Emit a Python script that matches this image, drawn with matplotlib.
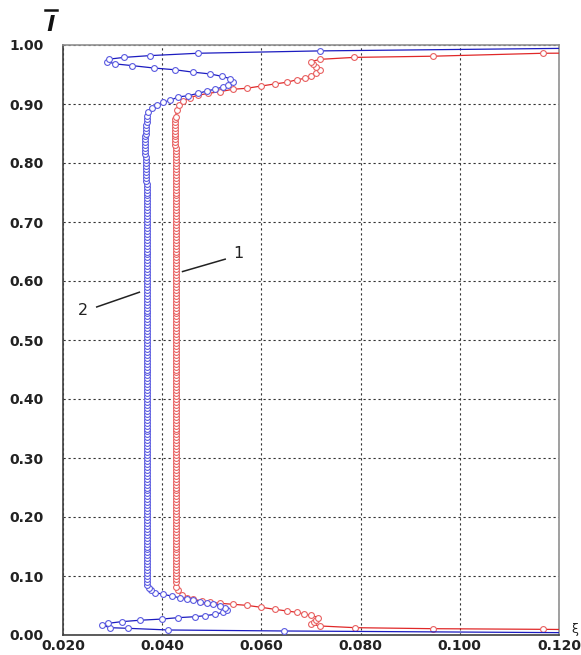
import numpy as np
import matplotlib.pyplot as plt
from matplotlib.lines import Line2D

# relative length stations and loss coefficient values, curve 2 (blue)
blue_bot_l = [0.003, 0.0068, 0.0085, 0.0113, 0.0124, 0.017, 0.0198, 0.0226,
              0.025, 0.027, 0.0294, 0.031, 0.0327, 0.035, 0.0385, 0.042,
              0.0464, 0.050, 0.052, 0.054, 0.0565, 0.059, 0.061, 0.063,
              0.066, 0.069, 0.072, 0.076, 0.080, 0.085]
blue_bot_xi = [0.140, 0.0646, 0.0412, 0.0332, 0.0295, 0.0278, 0.0291, 0.0318,
               0.0355, 0.0399, 0.0432, 0.0466, 0.0486, 0.0506, 0.0523, 0.0530,
               0.0527, 0.0517, 0.0503, 0.0490, 0.0476, 0.0463, 0.0449, 0.0436,
               0.0419, 0.0402, 0.0385, 0.0377, 0.0373, 0.0370]

blue_top_l = [0.880, 0.887, 0.893, 0.898, 0.903, 0.906, 0.912, 0.914, 0.918,
              0.922, 0.925, 0.929, 0.932, 0.937, 0.943, 0.947, 0.951, 0.954,
              0.958, 0.961, 0.965, 0.968, 0.972, 0.976, 0.979, 0.982, 0.986,
              0.990, 0.996]
blue_top_xi = [0.0369, 0.0371, 0.0379, 0.0389, 0.0402, 0.0416, 0.0432, 0.0452,
               0.0472, 0.0490, 0.0506, 0.0523, 0.0533, 0.0542, 0.0537, 0.0520,
               0.0496, 0.0462, 0.0426, 0.0383, 0.0340, 0.0305, 0.0288, 0.0293,
               0.0323, 0.0375, 0.0472, 0.0718, 0.140]

# curve 1 (red)
red_bot_l = [0.008, 0.0096, 0.0107, 0.0124, 0.0153, 0.018, 0.0215, 0.0254,
             0.0294, 0.0333, 0.0356, 0.0385, 0.0407, 0.0435, 0.0469, 0.0503,
             0.052, 0.0537, 0.0554, 0.0576, 0.0605, 0.063, 0.068, 0.0755,
             0.082]
red_bot_xi = [0.140, 0.1168, 0.0945, 0.0789, 0.0718, 0.0701, 0.0706, 0.0711,
              0.0715, 0.0701, 0.0686, 0.0671, 0.0651, 0.0627, 0.0600, 0.0570,
              0.0543, 0.0517, 0.0496, 0.0480, 0.0463, 0.0449, 0.0439, 0.0432,
              0.0428]

red_top_l = [0.878, 0.890, 0.899, 0.905, 0.911, 0.915, 0.918, 0.921, 0.925,
             0.9266, 0.9305, 0.934, 0.9368, 0.941, 0.9435, 0.947, 0.9525,
             0.9576, 0.963, 0.968, 0.972, 0.9757, 0.979, 0.981, 0.986, 0.987]
red_top_xi = [0.0427, 0.0429, 0.0434, 0.0442, 0.0456, 0.0473, 0.0493, 0.0517,
              0.0543, 0.0570, 0.0600, 0.0627, 0.0651, 0.0671, 0.0688, 0.0701,
              0.0711, 0.0718, 0.0711, 0.0705, 0.0701, 0.0718, 0.0787, 0.0945,
              0.1168, 0.140]

# core region, shared stations
mid_l = [0.090, 0.095, 0.100, 0.105, 0.110, 0.115, 0.120, 0.125, 0.130, 0.135,
         0.140, 0.145, 0.150, 0.155, 0.160, 0.165, 0.170, 0.175, 0.180, 0.185,
         0.190, 0.195, 0.200, 0.205, 0.210, 0.215, 0.220, 0.225, 0.230, 0.235,
         0.240, 0.245, 0.250, 0.255, 0.260, 0.265, 0.270, 0.275, 0.280, 0.285,
         0.290, 0.295, 0.300, 0.305, 0.310, 0.315, 0.320, 0.325, 0.330, 0.335,
         0.340, 0.345, 0.350, 0.355, 0.360, 0.365, 0.370, 0.375, 0.380, 0.385,
         0.390, 0.395, 0.400, 0.405, 0.410, 0.415, 0.420, 0.425, 0.430, 0.435,
         0.440, 0.445, 0.450, 0.455, 0.460, 0.465, 0.470, 0.475, 0.480, 0.485,
         0.490, 0.495, 0.500, 0.505, 0.510, 0.515, 0.520, 0.525, 0.530, 0.535,
         0.540, 0.545, 0.550, 0.555, 0.560, 0.565, 0.570, 0.575, 0.580, 0.585,
         0.590, 0.595, 0.600, 0.605, 0.610, 0.615, 0.620, 0.625, 0.630, 0.635,
         0.640, 0.645, 0.650, 0.655, 0.660, 0.665, 0.670, 0.675, 0.680, 0.685,
         0.690, 0.695, 0.700, 0.705, 0.710, 0.715, 0.720, 0.725, 0.730, 0.735,
         0.740, 0.745, 0.750, 0.755, 0.760, 0.765, 0.770, 0.775, 0.780, 0.785,
         0.790, 0.795, 0.800, 0.805, 0.810, 0.815, 0.820, 0.825, 0.830, 0.835,
         0.840, 0.845, 0.850, 0.855, 0.860, 0.865, 0.870, 0.875]
blue_mid_xi = [0.0370, 0.0370, 0.0369, 0.0369, 0.0369, 0.0369, 0.0369, 0.0369, 0.0369, 0.0369,
               0.0369, 0.0369, 0.0369, 0.0369, 0.0369, 0.0369, 0.0369, 0.0369, 0.0369, 0.0369,
               0.0369, 0.0369, 0.0369, 0.0369, 0.0369, 0.0369, 0.0369, 0.0369, 0.0369, 0.0369,
               0.0369, 0.0369, 0.0369, 0.0369, 0.0369, 0.0369, 0.0369, 0.0369, 0.0369, 0.0369,
               0.0369, 0.0369, 0.0369, 0.0369, 0.0369, 0.0369, 0.0369, 0.0369, 0.0369, 0.0369,
               0.0369, 0.0369, 0.0369, 0.0369, 0.0369, 0.0369, 0.0369, 0.0369, 0.0369, 0.0369,
               0.0369, 0.0369, 0.0369, 0.0369, 0.0369, 0.0369, 0.0369, 0.0369, 0.0369, 0.0369,
               0.0369, 0.0369, 0.0369, 0.0369, 0.0369, 0.0369, 0.0369, 0.0369, 0.0369, 0.0369,
               0.0369, 0.0369, 0.0369, 0.0369, 0.0369, 0.0369, 0.0369, 0.0369, 0.0369, 0.0369,
               0.0369, 0.0369, 0.0369, 0.0369, 0.0369, 0.0369, 0.0369, 0.0369, 0.0369, 0.0369,
               0.0369, 0.0369, 0.0369, 0.0369, 0.0369, 0.0369, 0.0369, 0.0369, 0.0369, 0.0369,
               0.0369, 0.0369, 0.0369, 0.0369, 0.0369, 0.0369, 0.0369, 0.0369, 0.0369, 0.0369,
               0.0369, 0.0369, 0.0369, 0.0369, 0.0369, 0.0369, 0.0369, 0.0369, 0.0369, 0.0369,
               0.0369, 0.0369, 0.0369, 0.0369, 0.0369, 0.0369, 0.0368, 0.0368, 0.0368, 0.0368,
               0.0368, 0.0368, 0.0368, 0.0367, 0.0367, 0.0366, 0.0366, 0.0365, 0.0365, 0.0365,
               0.0366, 0.0366, 0.0367, 0.0367, 0.0368, 0.0368, 0.0369, 0.0369]
red_mid_xi = [0.0428, 0.0428, 0.0427, 0.0427, 0.0427, 0.0427, 0.0427, 0.0427, 0.0427, 0.0427,
              0.0427, 0.0427, 0.0427, 0.0427, 0.0427, 0.0427, 0.0427, 0.0427, 0.0427, 0.0427,
              0.0427, 0.0427, 0.0427, 0.0427, 0.0427, 0.0427, 0.0427, 0.0427, 0.0427, 0.0427,
              0.0427, 0.0427, 0.0427, 0.0427, 0.0427, 0.0427, 0.0427, 0.0427, 0.0427, 0.0427,
              0.0427, 0.0427, 0.0427, 0.0427, 0.0427, 0.0427, 0.0427, 0.0427, 0.0427, 0.0427,
              0.0427, 0.0427, 0.0427, 0.0427, 0.0427, 0.0427, 0.0427, 0.0427, 0.0427, 0.0427,
              0.0427, 0.0427, 0.0427, 0.0427, 0.0427, 0.0427, 0.0427, 0.0427, 0.0427, 0.0427,
              0.0427, 0.0427, 0.0427, 0.0427, 0.0427, 0.0427, 0.0427, 0.0427, 0.0427, 0.0427,
              0.0427, 0.0427, 0.0427, 0.0427, 0.0427, 0.0427, 0.0427, 0.0427, 0.0427, 0.0427,
              0.0427, 0.0427, 0.0427, 0.0427, 0.0427, 0.0427, 0.0427, 0.0427, 0.0427, 0.0427,
              0.0427, 0.0427, 0.0427, 0.0427, 0.0427, 0.0427, 0.0427, 0.0427, 0.0427, 0.0427,
              0.0427, 0.0427, 0.0427, 0.0427, 0.0427, 0.0427, 0.0427, 0.0427, 0.0427, 0.0427,
              0.0427, 0.0427, 0.0427, 0.0427, 0.0427, 0.0427, 0.0427, 0.0427, 0.0427, 0.0427,
              0.0427, 0.0427, 0.0427, 0.0427, 0.0427, 0.0427, 0.0427, 0.0427, 0.0427, 0.0427,
              0.0427, 0.0427, 0.0427, 0.0427, 0.0427, 0.0427, 0.0427, 0.0427, 0.0426, 0.0426,
              0.0426, 0.0426, 0.0426, 0.0426, 0.0426, 0.0426, 0.0426, 0.0426]

x_ticks = [0.020, 0.040, 0.060, 0.080, 0.100, 0.120]
y_ticks = [0.0, 0.1, 0.2, 0.3, 0.4, 0.5, 0.6, 0.7, 0.8, 0.9, 1.0]

blue_l = blue_bot_l + mid_l + blue_top_l
blue_xi = blue_bot_xi + blue_mid_xi + blue_top_xi
red_l = red_bot_l + mid_l + red_top_l
red_xi = red_bot_xi + red_mid_xi + red_top_xi

fig = plt.figure(figsize=(5.81, 6.55), dpi=100)
ax = fig.add_axes([63 / 581, 20 / 655, 496 / 581, 590 / 655])

ax.plot(red_xi, red_l, color="#e02828", lw=0.9, marker="o", ms=4.2,
        mfc="white", mec="#e86060", mew=0.8, zorder=3)
ax.plot(blue_xi, blue_l, color="#1c1cc0", lw=0.9, marker="o", ms=4.2,
        mfc="white", mec="#5a5ae0", mew=0.8, zorder=4)

ax.set_xlim(0.020, 0.120)
ax.set_ylim(0.0, 1.0)
ax.set_xticks(x_ticks)
ax.set_yticks(y_ticks)
ax.set_xticklabels(["%.3f" % v for v in x_ticks])
ax.set_yticklabels(["%.2f" % v for v in y_ticks])
ax.tick_params(length=0, labelsize=10, colors="#222222")
ax.tick_params(axis="y", pad=14)
ax.tick_params(axis="x", pad=3)
for lab in ax.get_xticklabels() + ax.get_yticklabels():
    lab.set_fontweight("bold")

ax.grid(True, color="#333333", lw=0.8, linestyle=(0, (2, 2.5)))
ax.set_axisbelow(True)
for side in ["left", "bottom"]:
    ax.spines[side].set_color("#404040")
    ax.spines[side].set_linewidth(1.2)
for side in ["top", "right"]:
    ax.spines[side].set_color("#909090")
    ax.spines[side].set_linewidth(1.2)

# curve labels with leader lines
ax.plot([0.0441, 0.0527], [0.616, 0.637], color="#222222", lw=1.1, zorder=5)
ax.text(0.0554, 0.646, "1", fontsize=11.5, ha="center", va="center", color="#222222")
ax.plot([0.0354, 0.0268], [0.581, 0.556], color="#222222", lw=1.1, zorder=5)
ax.text(0.0241, 0.550, "2", fontsize=11.5, ha="center", va="center", color="#222222")

# axis symbols
fig.text(575 / 581, 1 - 629 / 655, "ξ", fontsize=9, ha="center", va="center",
         color="#222222")
fig.text(50 / 581, 1 - 25 / 655, "l", fontsize=16, fontweight="bold",
         fontstyle="italic", ha="center", va="center", color="#111111")
fig.add_artist(Line2D([45 / 581, 57 / 581], [1 - 10 / 655, 1 - 10 / 655],
                      color="#111111", lw=1.8))

fig.savefig("out.png", dpi=100)
